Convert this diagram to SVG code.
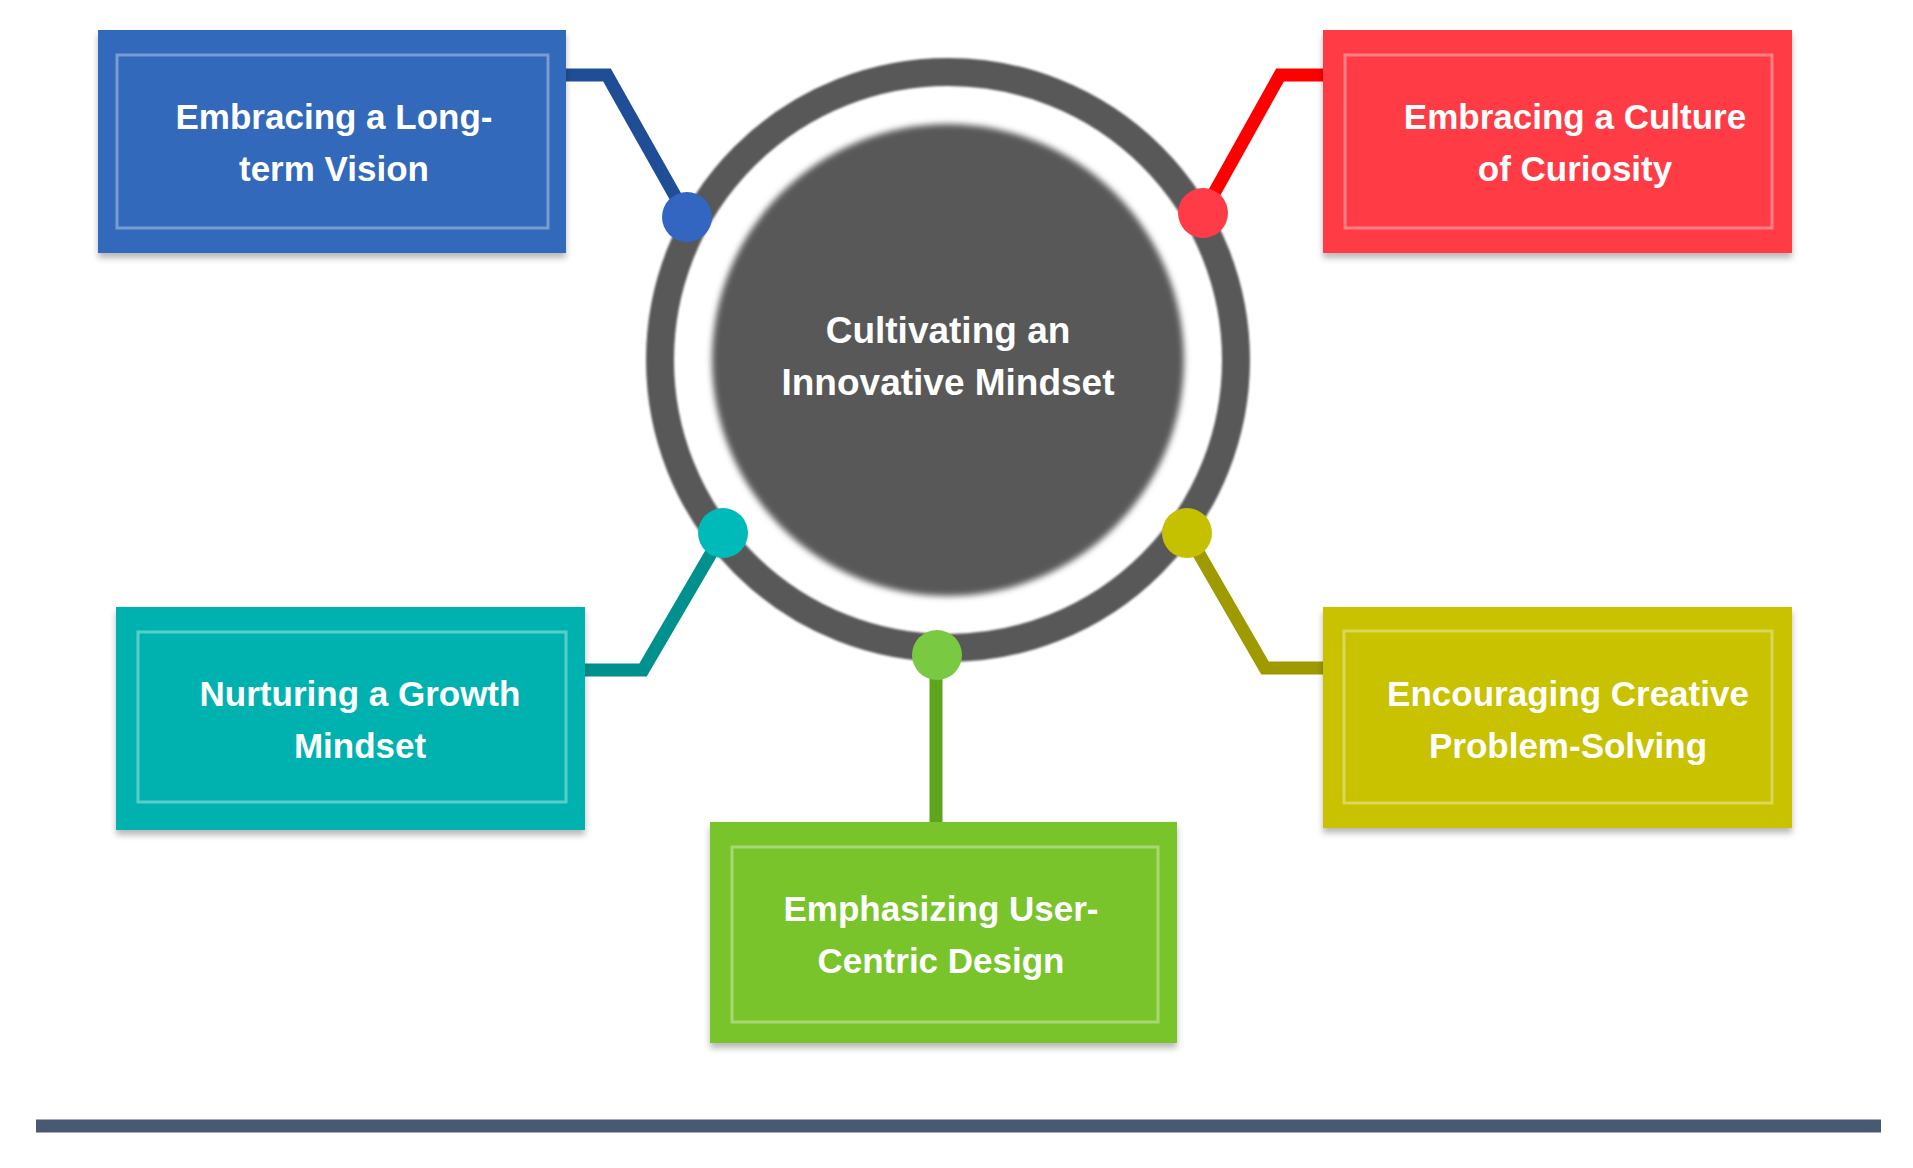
<svg xmlns="http://www.w3.org/2000/svg" width="1913" height="1168" viewBox="0 0 1913 1168">
  <defs>
    <filter id="shadow" x="-5%" y="-5%" width="110%" height="120%">
      <feDropShadow dx="0" dy="5" stdDeviation="3" flood-color="#000" flood-opacity="0.28"/>
    </filter>
    <filter id="soft" x="-10%" y="-10%" width="120%" height="120%">
      <feGaussianBlur stdDeviation="3"/>
    </filter>
    <filter id="blur1" x="-10%" y="-10%" width="120%" height="120%">
      <feGaussianBlur stdDeviation="1.2"/>
    </filter>
  </defs>
  <style>
    .box { filter: url(#shadow); }
    .inner { fill: none; stroke: #ffffff; stroke-opacity: 0.35; stroke-width: 3; }
    .lbl { font-family: "Liberation Sans", Arial, sans-serif; font-weight: bold; font-size: 35px; fill: #ffffff; text-anchor: middle; }
    .conn { fill: none; stroke-width: 13; stroke-linejoin: miter; }
    .ctr { font-family: "Liberation Sans", Arial, sans-serif; font-weight: bold; font-size: 37px; fill: #ffffff; text-anchor: middle; }
  </style>
  <rect width="1913" height="1168" fill="#ffffff"/>

  <g id="center">
    <circle cx="948" cy="360" r="288" fill="none" stroke="#595959" stroke-width="28" filter="url(#blur1)"/>
    <circle cx="948" cy="360" r="236" fill="#595959" filter="url(#soft)"/>
    <text class="ctr" x="948" y="343">Cultivating an</text>
    <text class="ctr" x="948" y="395">Innovative Mindset</text>
  </g>

  <g id="connectors">
    <polyline class="conn" stroke="#1F4E96" points="566,75 607,75 687,217"/>
    <circle cx="687" cy="217" r="25" fill="#3366C0"/>
    <polyline class="conn" stroke="#FF0000" points="1323,75 1280,75 1203,213"/>
    <circle cx="1203" cy="213" r="25" fill="#FF3B47"/>
    <polyline class="conn" stroke="#00908E" points="585,670 643,670 723,533"/>
    <circle cx="723" cy="533" r="25" fill="#00BABA"/>
    <polyline class="conn" stroke="#9E9A00" points="1325,668 1265,668 1187,533"/>
    <circle cx="1187" cy="533" r="25" fill="#C5C000"/>
    <polyline class="conn" stroke="#5EA51C" points="936,655 936,823"/>
    <circle cx="937" cy="655" r="25" fill="#7AC943"/>
  </g>

  <g id="node-longterm">
    <rect class="box" x="98" y="30" width="468" height="223" fill="#3169BA"/>
    <rect class="inner" x="117" y="55" width="431" height="173"/>
    <text class="lbl" x="334" y="129">Embracing a Long-</text>
    <text class="lbl" x="334" y="181">term Vision</text>
  </g>

  <g id="node-curiosity">
    <rect class="box" x="1323" y="30" width="469" height="223" fill="#FF3A44"/>
    <rect class="inner" x="1345" y="55" width="427" height="173"/>
    <text class="lbl" x="1575" y="129">Embracing a Culture</text>
    <text class="lbl" x="1575" y="181">of Curiosity</text>
  </g>

  <g id="node-growth">
    <rect class="box" x="116" y="607" width="469" height="223" fill="#00B2AF"/>
    <rect class="inner" x="138" y="632" width="428" height="170"/>
    <text class="lbl" x="360" y="706">Nurturing a Growth</text>
    <text class="lbl" x="360" y="758">Mindset</text>
  </g>

  <g id="node-usercentric">
    <rect class="box" x="710" y="822" width="467" height="221" fill="#78C42B"/>
    <rect class="inner" x="732" y="847" width="426" height="175"/>
    <text class="lbl" x="941" y="921">Emphasizing User-</text>
    <text class="lbl" x="941" y="973">Centric Design</text>
  </g>

  <g id="node-problem">
    <rect class="box" x="1323" y="607" width="469" height="221" fill="#C8C200"/>
    <rect class="inner" x="1344" y="631" width="428" height="172"/>
    <text class="lbl" x="1568" y="706">Encouraging Creative</text>
    <text class="lbl" x="1568" y="758">Problem-Solving</text>
  </g>

  <line x1="36" y1="1126" x2="1881" y2="1126" stroke="#475A72" stroke-width="13"/>
</svg>
